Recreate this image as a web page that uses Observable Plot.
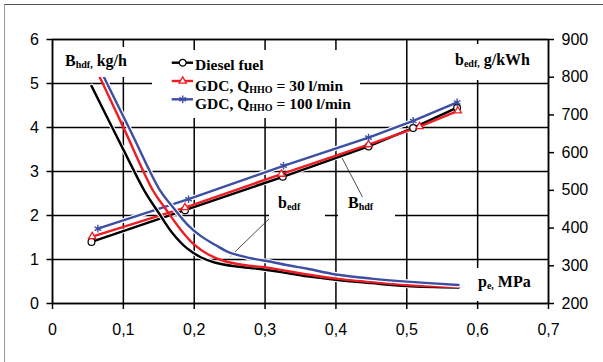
<!DOCTYPE html>
<html><head><meta charset="utf-8">
<script src="https://cdn.jsdelivr.net/npm/d3@7"></script>
<script src="https://cdn.jsdelivr.net/npm/@observablehq/plot@0.6"></script>
<style>
html,body{margin:0;padding:0;background:#fff;}
#wrap{position:relative;width:603px;height:362px;overflow:hidden;background:#fff;}
#wrap svg.plot{position:absolute;left:0;top:0;}
.box{position:absolute;background:#fff;}
.lab{position:absolute;font-family:"Liberation Serif","Times New Roman",serif;font-weight:bold;line-height:1;white-space:nowrap;color:#000;}
.sub{position:relative;}
#border{position:absolute;left:4px;top:4px;width:620px;height:400px;border-top:1px solid #555;border-left:1px solid #999;z-index:5;pointer-events:none;}
</style>
</head><body>
<div id="wrap"><div id="border"></div></div>
<script>
// ---- data ----
const xTicks = [0, 0.1, 0.2, 0.3, 0.4, 0.5, 0.6, 0.7];
const yTicksLeft = [0, 1, 2, 3, 4, 5, 6];
const yTicksRight = [200, 300, 400, 500, 600, 700, 800, 900];

// B_hdf, kg/h (left axis)
const pe_diesel = [0.055, 0.187, 0.325, 0.446, 0.509, 0.571];
const Bhdf_diesel = [1.40, 2.12, 2.88, 3.57, 3.99, 4.45];
const pe_gdc30 = [0.056, 0.187, 0.323, 0.446, 0.518, 0.572];
const Bhdf_gdc30 = [1.52, 2.18, 2.94, 3.61, 4.02, 4.38];
const pe_gdc100 = [0.064, 0.192, 0.326, 0.446, 0.509, 0.571];
const Bhdf_gdc100 = [1.70, 2.37, 3.13, 3.77, 4.15, 4.57];

// b_edf, g/kWh (right axis)
const pe_b_diesel = [0.055, 0.10, 0.13, 0.15, 0.17, 0.19, 0.21, 0.23, 0.26, 0.29, 0.32, 0.36, 0.40, 0.45, 0.50, 0.573];
const bedf_diesel = [777, 608, 498, 440, 385, 346, 322, 308, 298, 292, 284, 272, 263, 254, 246, 242];
const pe_b_gdc30 = [0.056, 0.10, 0.142, 0.16, 0.18, 0.20, 0.22, 0.24, 0.27, 0.30, 0.322, 0.36, 0.40, 0.45, 0.50, 0.573];
const bedf_gdc30 = [843, 667, 499, 450, 398, 356, 330, 314, 302, 296, 289, 277, 266, 257, 249, 244];
const pe_b_gdc100 = [0.064, 0.11, 0.152, 0.17, 0.19, 0.21, 0.23, 0.25, 0.28, 0.31, 0.33, 0.36, 0.40, 0.45, 0.50, 0.573];
const bedf_gdc100 = [833, 658, 499, 455, 410, 378, 355, 335, 320, 310, 302, 292, 277, 266, 258, 249];

// annotation leader lines (data units: pe, left-axis value)
const leaders = [
  {x1: 0.322, y1: 2.18, x2: 0.251, y2: 1.07},
  {x1: 0.405, y1: 3.42, x2: 0.4375, y2: 2.42}
];

const RED = "#ee1d23", BLUE = "#3d4fa3", BLACK = "#000";
const toLeft = b => (b - 200) * 6 / 700;
const fromLeft = v => v * 700 / 6 + 200;

const zipB = (xs, ys) => xs.map((x, i) => ({x, y: ys[i]}));
const zipR = (xs, ys) => xs.map((x, i) => ({x, y: toLeft(ys[i])}));

const dDiesel = zipB(pe_diesel, Bhdf_diesel);
const d30 = zipB(pe_gdc30, Bhdf_gdc30);
const d100 = zipB(pe_gdc100, Bhdf_gdc100);
const bDiesel = zipR(pe_b_diesel, bedf_diesel);
const b30 = zipR(pe_b_gdc30, bedf_gdc30);
const b100 = zipR(pe_b_gdc100, bedf_gdc100);

const W = 2.4;
const R_CIRC = 3.4, R_TRI = 2.7, R_AST = 3.6;
const chart = Plot.plot({
  width: 603, height: 362,
  marginLeft: 52, marginRight: 55, marginTop: 39, marginBottom: 59,
  x: {domain: [0, 0.7]},
  y: {domain: [0, 6]},
  style: {fontFamily: "'Liberation Sans', Arial, sans-serif", fontSize: "16px", color: "black", background: "white", overflow: "visible"},
  marks: [
    Plot.gridX(xTicks, {stroke: "black", strokeOpacity: 1, strokeWidth: 1.5}),
    Plot.gridY(yTicksLeft, {stroke: "black", strokeOpacity: 1, strokeWidth: 1.5}),
    Plot.axisX(xTicks, {tickSize: 6, tickPadding: 14, strokeWidth: 1.5, label: null,
      tickFormat: d => d === 0 ? "0" : d.toFixed(1).replace(".", ",")}),
    Plot.axisY(yTicksLeft, {anchor: "left", tickSize: 5.5, tickPadding: 8, strokeWidth: 1.5, label: null}),
    Plot.axisY(yTicksRight.map(toLeft), {anchor: "right", tickSize: 5, tickPadding: 8, strokeWidth: 1.5, label: null,
      tickFormat: d => String(Math.round(fromLeft(d)))}),
    Plot.frame({stroke: "black", strokeWidth: 1.5}),
    // leaders
    Plot.link(leaders, {x1: "x1", y1: "y1", x2: "x2", y2: "y2", stroke: "#222", strokeWidth: 0.8}),
    // B_hdf lines
    Plot.line(dDiesel, {x: "x", y: "y", stroke: "white", strokeWidth: W + 2}),
    Plot.line(dDiesel, {x: "x", y: "y", stroke: BLACK, strokeWidth: W}),
    Plot.line(d30, {x: "x", y: "y", stroke: RED, strokeWidth: W}),
    Plot.line(d100, {x: "x", y: "y", stroke: "white", strokeWidth: W + 2.4}),
    Plot.line(d100, {x: "x", y: "y", stroke: BLUE, strokeWidth: W}),
    // b_edf curves
    Plot.line(bDiesel, {x: "x", y: "y", curve: "catmull-rom", stroke: "white", strokeWidth: W + 2}),
    Plot.line(bDiesel, {x: "x", y: "y", curve: "catmull-rom", stroke: BLACK, strokeWidth: W}),
    Plot.line(b30, {x: "x", y: "y", curve: "catmull-rom", stroke: RED, strokeWidth: W}),
    Plot.line(b100, {x: "x", y: "y", curve: "catmull-rom", stroke: "white", strokeWidth: W + 2.4}),
    Plot.line(b100, {x: "x", y: "y", curve: "catmull-rom", stroke: BLUE, strokeWidth: W}),
    // markers
    Plot.dot(dDiesel, {x: "x", y: "y", r: R_CIRC, symbol: "circle", fill: "white", stroke: BLACK, strokeWidth: 1.2}),
    Plot.dot(d30, {x: "x", y: "y", r: R_TRI, symbol: "triangle", fill: "white", stroke: RED, strokeWidth: 1.3}),
    Plot.dot(d100, {x: "x", y: "y", r: R_AST, symbol: "asterisk", stroke: BLUE, strokeWidth: 1.4})
  ]
});
chart.classList.add("plot");
const wrap = document.getElementById("wrap");
wrap.appendChild(chart);

// ---- overlay boxes and labels ----
function box(l, t, w, h) {
  const d = document.createElement("div");
  d.className = "box";
  Object.assign(d.style, {left: l + "px", top: t + "px", width: w + "px", height: h + "px"});
  wrap.appendChild(d);
}
function lab(html, l, baseline, fs) {
  const d = document.createElement("div");
  d.className = "lab";
  d.innerHTML = html;
  Object.assign(d.style, {left: l + "px", top: (baseline - 0.8375 * fs) + "px", fontSize: fs + "px"});
  wrap.appendChild(d);
}
const sub = (t, fs, dy) => `<span class="sub" style="font-size:${fs}px;top:${dy}px">${t}</span>`;

box(60, 47, 72, 30);
lab("B" + sub("hdf,", 10, 2) + " kg/h", 65, 66.7, 16);
box(440, 44, 107, 36);
lab("b" + sub("edf,", 10, 2) + " g/kWh", 455, 65.7, 16);
box(269, 193, 56, 31);
lab("b" + sub("edf", 10, 2), 278, 208.3, 16);
box(338, 197, 57, 27);
lab("B" + sub("hdf", 10, 2), 348, 208.3, 16);
box(468, 268, 78, 33);
lab("p" + sub("e,", 10, 2) + " MPa", 478, 287.5, 16);

// legend
box(152, 50, 208, 68);
const lsvg = d3.create("svg").attr("width", 208).attr("height", 68)
  .style("position", "absolute").style("left", "152px").style("top", "50px");
const rows = [
  {y: 12.7, color: BLACK, sym: d3.symbolCircle, r: R_CIRC, fill: "white", sw: 1.2},
  {y: 31, color: RED, sym: d3.symbolTriangle, r: R_TRI, fill: "white", sw: 1.3},
  {y: 49.3, color: BLUE, sym: d3.symbolAsterisk, r: R_AST, fill: "none", sw: 1.4}
];
rows.forEach(rw => {
  lsvg.append("line").attr("x1", 19.7).attr("x2", 41).attr("y1", rw.y).attr("y2", rw.y)
    .attr("stroke", rw.color).attr("stroke-width", W);
  lsvg.append("path").attr("d", d3.symbol(rw.sym, Math.PI * rw.r * rw.r)())
    .attr("transform", `translate(30.7,${rw.y})`)
    .attr("fill", rw.fill).attr("stroke", rw.color).attr("stroke-width", rw.sw);
});
wrap.appendChild(lsvg.node());
lab("Diesel fuel", 195, 70, 15.5);
lab("GDC, Q" + sub("HHO", 10, 2) + " = 30 l/min", 195, 90.7, 15.5);
lab("GDC, Q" + sub("HHO", 10, 2) + " = 100 l/min", 195, 109, 15.5);
</script>
</body></html>
